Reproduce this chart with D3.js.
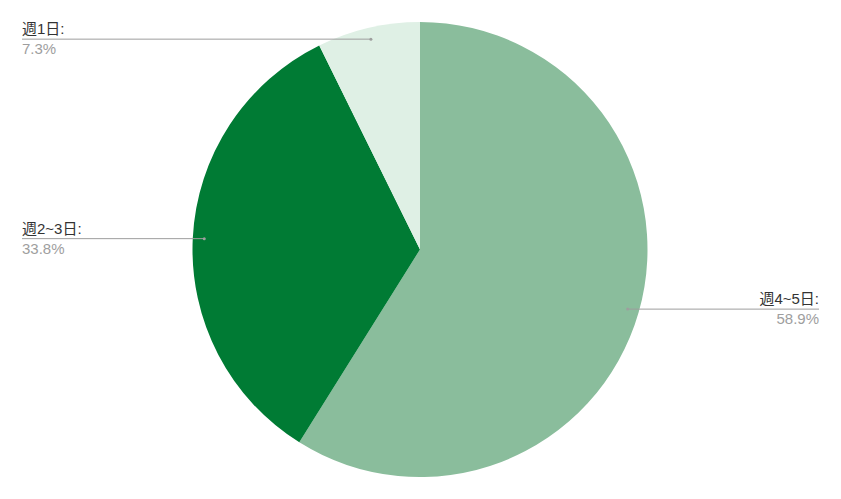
<!DOCTYPE html>
<html><head><meta charset="utf-8">
<script src="https://cdn.jsdelivr.net/npm/d3@7"></script>
<style>body{margin:0;background:#fff}svg{display:block}</style>
</head><body>
<svg id="c" width="841" height="499"></svg>
<script>
const categories = ["週4~5日", "週2~3日", "週1日"];
const values = [58.9, 33.8, 7.3];
const colors = ["#8abd9c", "#007b34", "#dff0e5"];
const labelSide = ["right", "left", "left"];

const svg = d3.select("#c");
const cx = 420, cy = 249.5, r = 227.5;
const g = svg.append("g").attr("transform", `translate(${cx},${cy})`);
const pie = d3.pie().sort(null).value(d => d)(values);
const arc = d3.arc().innerRadius(0).outerRadius(r);
g.selectAll("path").data(pie).join("path")
  .attr("d", arc).attr("fill", (d, i) => colors[i]);

const font = "Arial, 'Liberation Sans', 'Noto Sans CJK JP', sans-serif";
pie.forEach((d, i) => {
  const a = (d.startAngle + d.endAngle) / 2;
  const px = cx + Math.sin(a) * 216, py = cy - Math.cos(a) * 216;
  const right = labelSide[i] === "right";
  const ex = right ? 819 : 22;
  svg.append("line").attr("x1", px).attr("y1", py).attr("x2", ex).attr("y2", py)
    .attr("stroke", "#9e9e9e").attr("stroke-width", 1);
  svg.append("circle").attr("cx", px).attr("cy", py).attr("r", 1.5).attr("fill", "#9e9e9e");
  svg.append("text").attr("x", ex).attr("y", py - 5)
    .attr("text-anchor", right ? "end" : "start")
    .attr("font-family", font).attr("font-size", 15).attr("fill", "#333")
    .text(categories[i] + ":");
  svg.append("text").attr("x", ex).attr("y", py + 15)
    .attr("text-anchor", right ? "end" : "start")
    .attr("font-family", font).attr("font-size", 15).attr("fill", "#9e9e9e")
    .text(values[i].toFixed(1) + "%");
});
</script>
</body></html>
